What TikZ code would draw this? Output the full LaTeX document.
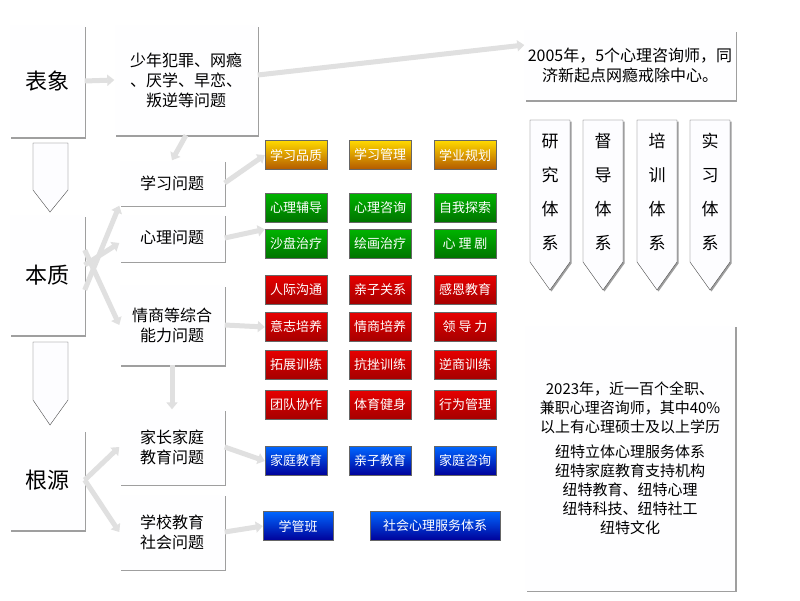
\documentclass[tikz,border=0pt]{standalone}
\usepackage{fontspec}
\setmainfont{Noto Sans CJK SC}
\usetikzlibrary{arrows.meta,shadows}
\tikzset{
  panel/.style={draw=none, fill=white!92!blue!4, align=center, font=\fontsize{16}{20}\selectfont,
    drop shadow={shadow xshift=1.5pt, shadow yshift=-1.5pt, fill=black!75}},
  tag/.style={panel, font=\fontsize{22}{24}\selectfont},
  btn/.style={draw=black!60, text=white, minimum width=62pt, minimum height=29pt, inner sep=1pt,
    font=\fontsize{13}{15}\selectfont},
  gold/.style={btn, top color=yellow!70!orange, bottom color=orange!70!black},
  grn/.style={btn, top color=green!70!black, bottom color=green!45!black},
  rd/.style={btn, top color=red!90!black, bottom color=red!65!black},
  blu/.style={btn, top color=blue!60!cyan, bottom color=blue!60!black},
  flow/.style={draw=black!12, line width=5pt, -{Triangle[length=7pt,width=11pt]}},
  chev/.style={fill=white!90!blue!6, draw=black!70, line width=0.4pt}
}
\begin{document}
\begin{tikzpicture}[x=1pt,y=-1pt]
\useasboundingbox[fill=white] (0,0) rectangle (800,600);

% left column
\node[tag, minimum width=75pt, minimum height=112pt] (surface) at (47,81) {表象};
\node[tag, minimum width=75pt, minimum height=120pt] (essence) at (47,275) {本质};
\node[tag, minimum width=75pt, minimum height=100pt] (root) at (47,480) {根源};
\fill[chev] (33,143) -- (68,143) -- (68,190) -- (50,212) -- (33,190) -- cycle;
\fill[chev] (33,342) -- (68,342) -- (68,400) -- (50,425) -- (33,400) -- cycle;

% problems
\node[panel, minimum width=143pt, minimum height=110pt] (youth) at (186,80) {少年犯罪、网瘾\\、厌学、早恋、\\叛逆等问题};
\node[panel, minimum width=105pt, minimum height=45pt] (study) at (172,183) {学习问题};
\node[panel, minimum width=105pt, minimum height=47pt] (mind) at (172,238) {心理问题};
\node[panel, minimum width=105pt, minimum height=80pt] (eq) at (172,325) {情商等综合\\能力问题};
\node[panel, minimum width=105pt, minimum height=75pt] (family) at (172,447) {家长家庭\\教育问题};
\node[panel, minimum width=105pt, minimum height=75pt] (school) at (172,532) {学校教育\\社会问题};

% right column
\node[panel, minimum width=210pt, minimum height=70pt] (start) at (630,65) {2005年，5个心理咨询师，同\\济新起点网瘾戒除中心。};
\node[panel, minimum width=210pt, minimum height=265pt, font=\fontsize{15}{19}\selectfont] (now) at (630,458)
  {2023年，近一百个全职、\\兼职心理咨询师，其中40\%\\以上有心理硕士及以上学历\\[6pt]纽特立体心理服务体系\\纽特家庭教育支持机构\\纽特教育、纽特心理\\纽特科技、纽特社工\\纽特文化};
\foreach \x/\t in {550/研\\究\\体\\系, 603/督\\导\\体\\系, 657/培\\训\\体\\系, 710/实\\习\\体\\系} {
  \fill[chev, drop shadow={shadow xshift=1.5pt, shadow yshift=-1.5pt, fill=black!75}]
    (\x-20,120) -- (\x+20,120) -- (\x+20,262) -- (\x,290) -- (\x-20,262) -- cycle;
  \node[font=\fontsize{17}{34}\selectfont, align=center] at (\x,192) {\t};
}

% buttons
\node[gold] (b11) at (296,155) {学习品质};
\node[gold] (b12) at (380,155) {学习管理};
\node[gold] (b13) at (465,155) {学业规划};
\node[grn] (b21) at (296,208) {心理辅导};
\node[grn] (b22) at (380,208) {心理咨询};
\node[grn] (b23) at (465,208) {自我探索};
\node[grn] (b31) at (296,244) {沙盘治疗};
\node[grn] (b32) at (380,244) {绘画治疗};
\node[grn] (b33) at (465,244) {心 理 剧};
\node[rd] (b41) at (296,290) {人际沟通};
\node[rd] (b42) at (380,290) {亲子关系};
\node[rd] (b43) at (465,290) {感恩教育};
\node[rd] (b51) at (296,327) {意志培养};
\node[rd] (b52) at (380,327) {情商培养};
\node[rd] (b53) at (465,327) {领 导 力};
\node[rd] (b61) at (296,365) {拓展训练};
\node[rd] (b62) at (380,365) {抗挫训练};
\node[rd] (b63) at (465,365) {逆商训练};
\node[rd] (b71) at (296,405) {团队协作};
\node[rd] (b72) at (380,405) {体育健身};
\node[rd] (b73) at (465,405) {行为管理};
\node[blu] (b81) at (296,461) {家庭教育};
\node[blu] (b82) at (380,461) {亲子教育};
\node[blu] (b83) at (465,461) {家庭咨询};
\node[blu, minimum width=70pt] (b91) at (298,526) {学管班};
\node[blu, minimum width=130pt] (b92) at (435,526) {社会心理服务体系};

% connectors
\draw[flow] (surface.east) -- (youth.west);
\draw[flow] ([yshift=5pt]youth.east) -- ([yshift=20pt]start.west);
\draw[flow] (youth.south) -- (study.north);
\draw[flow] (eq.south) -- (family.north);
\draw[flow] ([yshift=-15pt]essence.east) -- (study.south west);
\draw[flow] ([yshift=10pt]essence.east) -- ([yshift=-5pt]mind.west);
\draw[flow] ([yshift=25pt]essence.east) -- (eq.west);
\draw[flow] (root.east) -- (family.west);
\draw[flow] (root.east) -- (school.west);
\draw[flow] (study.east) -- (b11.west);
\draw[flow] (mind.east) -- (b31.north west);
\draw[flow] (eq.east) -- (b51.west);
\draw[flow] (family.east) -- (b81.west);
\draw[flow] (school.east) -- (b91.west);
\end{tikzpicture}
\end{document}
